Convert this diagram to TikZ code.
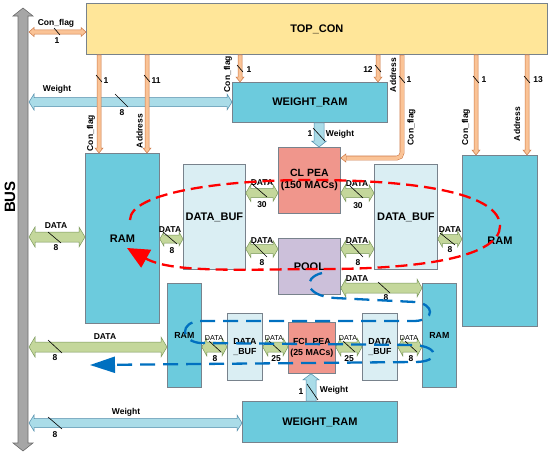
\documentclass[tikz,border=0pt]{standalone}
\usepackage{fontspec}
\setmainfont{Liberation Sans}
\usetikzlibrary{arrows.meta,calc}
\definecolor{topc}{RGB}{255,230,153}
\definecolor{ramc}{RGB}{108,203,221}
\definecolor{bufc}{RGB}{218,238,243}
\definecolor{pec}{RGB}{240,150,140}
\definecolor{poolc}{RGB}{204,192,218}
\definecolor{boxb}{RGB}{120,130,140}
\definecolor{grnf}{RGB}{196,215,155}
\definecolor{grnb}{RGB}{120,150,90}
\definecolor{bluf}{RGB}{170,220,232}
\definecolor{blub}{RGB}{80,140,170}
\definecolor{orf}{RGB}{250,195,150}
\definecolor{orb}{RGB}{205,120,70}
\definecolor{busf}{RGB}{166,166,166}
\definecolor{busb}{RGB}{110,110,110}
\definecolor{dashblue}{RGB}{0,112,192}
% horizontal double block arrow: style, left, right, y, shaft half, head half, head length
\newcommand\HArr[7]{%
\path[#1] let \p1=(#2), \p2=(#3), \p3=(0,#4) in
 (\x1,\y3) -- (\x1+#7,\y3+#6) -- (\x1+#7,\y3+#5) -- (\x2-#7,\y3+#5) -- (\x2-#7,\y3+#6) -- (\x2,\y3)
 -- (\x2-#7,\y3-#6) -- (\x2-#7,\y3-#5) -- (\x1+#7,\y3-#5) -- (\x1+#7,\y3-#6) -- cycle;}
% vertical downward block arrow: style, x, top, tip, shaft half, head half, head length
\newcommand\VDown[7]{%
\path[#1] let \p1=(#3), \p2=(#4), \p3=(#2,0) in
 (\x3-#5,\y1) -- (\x3-#5,\y2+#7) -- (\x3-#6,\y2+#7) -- (\x3,\y2) -- (\x3+#6,\y2+#7) -- (\x3+#5,\y2+#7) -- (\x3+#5,\y1) -- cycle;}
% vertical upward block arrow: style, x, base, tip, shaft half, head half, head length
\newcommand\VUp[7]{%
\path[#1] let \p1=(#3), \p2=(#4), \p3=(#2,0) in
 (\x3-#5,\y1) -- (\x3-#5,\y2-#7) -- (\x3-#6,\y2-#7) -- (\x3,\y2) -- (\x3+#6,\y2-#7) -- (\x3+#5,\y2-#7) -- (\x3+#5,\y1) -- cycle;}
\begin{document}
\begin{tikzpicture}[x=1pt,y=-1pt,
 box/.style={draw=boxb, line width=0.8pt, inner sep=0pt, anchor=north west, align=center, font=\bfseries\fontsize{11}{13}\selectfont},
 smallbox/.style={box, font=\bfseries\fontsize{8.8}{10.5}\selectfont},
 grnA/.style={fill=grnf, draw=grnb, line width=0.5pt},
 bluA/.style={fill=bluf, draw=blub, line width=0.5pt},
 orA/.style={fill=orf, draw=orb, line width=0.5pt},
 busA/.style={fill=busf, draw=busb, line width=0.6pt},
 lab/.style={inner sep=0pt, font=\bfseries\fontsize{8.5}{10}\selectfont},
 slab/.style={inner sep=0pt, font=\fontsize{7.2}{8}\selectfont},
 vlab/.style={lab, rotate=90},
 tick/.style={line width=0.6pt, draw=black}]
\fill[white] (0,0) rectangle (550,453);
\useasboundingbox (0,0) rectangle (550,453);

% BUS
\path[busA] (23,8) -- (33,16) -- (28,16) -- (28,443) -- (33,443) -- (23,451) -- (13,443) -- (18,443) -- (18,16) -- (13,16) -- cycle;
\node[inner sep=0pt, font=\bfseries\fontsize{15}{16}\selectfont, rotate=90] (buslbl) at (10,197) {BUS};
\coordinate (busR) at (29,0);

% boxes
\node[box, fill=topc, minimum width=461pt, minimum height=51pt] (topcon) at (86,3) {TOP\_CON};
\node[box, fill=ramc, minimum width=155pt, minimum height=40pt] (wram1) at (232,82) {WEIGHT\_RAM};
\node[box, fill=pec, minimum width=62pt, minimum height=66pt, font=\bfseries\fontsize{10.5}{12}\selectfont] (clpea) at (278,147) {CL PEA\\(150 MACs)};
\node[box, fill=bufc, minimum width=62pt, minimum height=105pt] (bufL) at (183,164) {DATA\_BUF};
\node[box, fill=bufc, minimum width=63pt, minimum height=105pt] (bufR) at (374,164) {DATA\_BUF};
\node[box, fill=poolc, minimum width=62pt, minimum height=56pt] (pool) at (278,238) {POOL};
\node[box, fill=ramc, minimum width=74pt, minimum height=170pt] (ramL) at (85,153) {RAM};
\node[box, fill=ramc, minimum width=75pt, minimum height=171pt] (ramR) at (462,155) {RAM};
\node[smallbox, fill=ramc, minimum width=34pt, minimum height=104pt] (ramB1) at (167,283) {RAM};
\node[smallbox, fill=bufc, minimum width=35pt, minimum height=67pt] (sbuf1) at (227,313) {DATA\\\_BUF};
\node[smallbox, fill=pec, minimum width=47pt, minimum height=51pt] (fcl) at (288,322) {FCL PEA\\(25 MACs)};
\node[smallbox, fill=bufc, minimum width=35pt, minimum height=67pt] (sbuf2) at (362,313) {DATA\\\_BUF};
\node[smallbox, fill=ramc, minimum width=34pt, minimum height=104pt] (ramB2) at (422,283) {RAM};
\node[box, fill=ramc, minimum width=155pt, minimum height=41pt] (wram2) at (242,401) {WEIGHT\_RAM};

% horizontal arrows
\HArr{orA}{busR}{topcon.west}{32}{2.2pt}{4.5pt}{5pt}
\HArr{bluA}{busR}{wram1.west}{102}{4.5pt}{8pt}{5pt}
\HArr{grnA}{busR}{ramL.west}{237}{5pt}{10pt}{6pt}
\HArr{grnA}{ramL.east}{bufL.west}{239}{4pt}{7pt}{4pt}
\HArr{grnA}{bufL.east}{clpea.west}{193}{4.5pt}{8.5pt}{5pt}
\HArr{grnA}{clpea.east}{bufR.west}{193}{4.5pt}{8.5pt}{5pt}
\HArr{grnA}{bufL.east}{pool.west}{249}{4.5pt}{8.5pt}{5pt}
\HArr{grnA}{pool.east}{bufR.west}{249}{4.5pt}{8.5pt}{5pt}
\HArr{grnA}{bufR.east}{ramR.west}{239}{4.5pt}{8pt}{4.5pt}
\HArr{grnA}{pool.east}{ramB2.west}{288}{5pt}{9pt}{5pt}
\HArr{grnA}{busR}{ramB1.west}{347}{5pt}{10pt}{6pt}
\HArr{grnA}{ramB1.east}{sbuf1.west}{347}{5pt}{9pt}{5pt}
\HArr{grnA}{sbuf1.east}{fcl.west}{347}{5pt}{9pt}{5pt}
\HArr{grnA}{fcl.east}{sbuf2.west}{347}{5pt}{9pt}{5pt}
\HArr{grnA}{sbuf2.east}{ramB2.west}{347}{5pt}{9pt}{5pt}
\HArr{bluA}{busR}{wram2.west}{423}{4.5pt}{8pt}{5pt}

% vertical arrows
\VDown{orA}{99}{topcon.south}{ramL.north}{2pt}{4pt}{5pt}
\VDown{orA}{147}{topcon.south}{ramL.north}{2pt}{4pt}{5pt}
\VDown{orA}{240}{topcon.south}{wram1.north}{2pt}{4pt}{5pt}
\VDown{orA}{378}{topcon.south}{wram1.north}{2pt}{4pt}{5pt}
\VDown{orA}{476}{topcon.south}{ramR.north}{2pt}{4pt}{5pt}
\VDown{orA}{527}{topcon.south}{ramR.north}{2pt}{4pt}{5pt}
\VDown{bluA}{319}{wram1.south}{clpea.north}{5pt}{7.5pt}{6pt}
\VUp{bluA}{311}{wram2.north}{fcl.south}{5pt}{8pt}{6pt}

% elbow Con_flag to CL PEA
\coordinate (e1) at (402,158);
\draw[orb, line width=4.6pt, rounded corners=5pt] (topcon.south -| e1) -- (e1) -- ($(clpea.east |- e1)+(5,0)$);
\draw[orf, line width=3.5pt, rounded corners=5pt] ($(topcon.south -| e1)+(0,0.5)$) -- (e1) -- ($(clpea.east |- e1)+(5.5,0)$);
\fill[orf] let \p1=(clpea.east |- e1) in (\x1,\y1) -- (\x1+5pt,\y1+4pt) -- (\x1+5pt,\y1-4pt) -- cycle;
\draw[orb, line width=0.5pt] let \p1=(clpea.east |- e1) in (\x1+5pt,\y1+2.3pt) -- (\x1+5pt,\y1+4pt) -- (\x1,\y1) -- (\x1+5pt,\y1-4pt) -- (\x1+5pt,\y1-2.3pt);

% ticks
\draw[tick] (54,28) -- (60,35);
\draw[tick] (115,94) -- (128,107);
\draw[tick] (96,75) -- (102,82);
\draw[tick] (144,75) -- (150,82);
\draw[tick] (237,65) -- (243,72);
\draw[tick] (375,65) -- (381,72);
\draw[tick] (399,76) -- (405,83);
\draw[tick] (473,76) -- (479,83);
\draw[tick] (524,76) -- (530,83);
\draw[tick] (313,128) -- (325,141);
\draw[tick] (307,384) -- (318,400);
\draw[tick] (48,232) -- (61,243);
\draw[tick] (163,232) -- (177,244);
\draw[tick] (253,185) -- (267,197);
\draw[tick] (350,186) -- (363,198);
\draw[tick] (253,243) -- (267,257);
\draw[tick] (350,243) -- (363,257);
\draw[tick] (440,233) -- (455,245);
\draw[tick] (378,282) -- (390,293);
\draw[tick] (48,340) -- (62,353);
\draw[tick] (209,341) -- (221,352);
\draw[tick] (269,341) -- (281,352);
\draw[tick] (343,341) -- (355,352);
\draw[tick] (405,341) -- (417,352);
\draw[tick] (48,417) -- (62,429);

% labels
\node[lab] (a1) at (56,23) {Con\_flag};
\node[lab] (a2) at (57,41) {1};
\node[lab] (a3) at (57,89) {Weight};
\node[lab] (a4) at (122,113) {8};
\node[lab] (a5) at (106,81) {1};
\node[lab] (a6) at (156,81) {11};
\node[lab] (a7) at (249,70) {1};
\node[lab] (a8) at (368,70) {12};
\node[lab] (a9) at (409,80) {1};
\node[lab] (a10) at (484,80) {1};
\node[lab] (a11) at (538,80) {13};
\node[vlab] (v1) at (91,133) {Con\_flag};
\node[vlab] (v2) at (139.5,131) {Address};
\node[vlab] (v3) at (228,74) {Con\_flag};
\node[vlab] (v4) at (393,75) {Address};
\node[vlab] (v5) at (411.5,127) {Con\_flag};
\node[vlab] (v6) at (466,127) {Con\_flag};
\node[vlab] (v7) at (517,124) {Address};
\node[lab] (a12) at (310,134) {1};
\node[lab] (a13) at (340,134) {Weight};
\node[lab] (d1) at (56,226) {DATA};
\node[lab] (d2) at (56,248) {8};
\node[lab] (d3) at (170,230) {DATA};
\node[lab] (d4) at (172,251) {8};
\node[lab] (d5) at (262,183) {DATA};
\node[lab] (d6) at (262,205) {30};
\node[lab] (d7) at (357,184) {DATA};
\node[lab] (d8) at (358,206) {30};
\node[lab] (d9) at (262,241) {DATA};
\node[lab] (d10) at (262,263) {8};
\node[lab] (d11) at (357,241) {DATA};
\node[lab] (d12) at (358,263) {8};
\node[lab] (d13) at (450,230) {DATA};
\node[lab] (d14) at (450,250) {8};
\node[lab] (d15) at (357,279) {DATA};
\node[lab] (d16) at (386,298) {8};
\node[lab] (d17) at (105,337) {DATA};
\node[lab] (d18) at (55,358) {8};
\node[slab] (d19) at (214,338) {DATA};
\node[lab] (d20) at (215,359) {8};
\node[slab] (d21) at (274,338) {DATA};
\node[lab] (d22) at (276,359) {25};
\node[slab] (d23) at (348,338) {DATA};
\node[lab] (d24) at (349,359) {25};
\node[slab] (d25) at (409,338) {DATA};
\node[lab] (d26) at (411,359) {8};
\node[lab] (w1) at (126,412) {Weight};
\node[lab] (w2) at (55,435) {8};
\node[lab] (w3) at (301,392) {1};
\node[lab] (w4) at (334,390) {Weight};

% red dashed loop
\draw[red, line width=2.3pt, dash pattern=on 12pt off 6pt, -{Triangle[length=22pt,width=20pt]}]
 (130,220) .. controls (130,193) and (220,180) .. (310,180)
 .. controls (425,180) and (500,195) .. (500,226)
 .. controls (500,256) and (425,270) .. (310,269)
 .. controls (230,270) and (170,272) .. (127,248);

% blue dashed loop
\draw[dashblue, line width=2.3pt, dash pattern=on 15pt off 8pt, -{Triangle[length=25pt,width=16pt]}]
 (322,273) .. controls (302,278) and (305,296) .. (335,298) -- (415,302)
 .. controls (435,304) and (435,320) .. (415,321) -- (200,321)
 .. controls (180,322) and (180,341) .. (200,343) -- (415,345)
 .. controls (440,347) and (440,362) .. (415,362) -- (90,365);
\end{tikzpicture}
\end{document}
